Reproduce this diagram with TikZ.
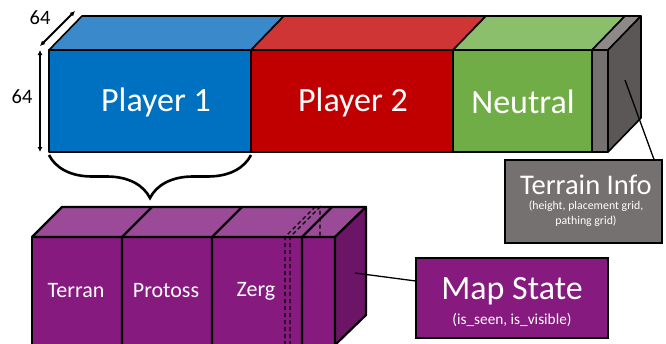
\documentclass[tikz,border=0pt]{standalone}
\usepackage{fontspec}
\setmainfont{Carlito}
\usetikzlibrary{arrows.meta,decorations.pathreplacing}
\definecolor{bluefront}{HTML}{0070C0}
\definecolor{bluetop}{HTML}{3A8ACB}
\definecolor{redfront}{HTML}{C00000}
\definecolor{redtop}{HTML}{CF3535}
\definecolor{greenfront}{HTML}{70AD47}
\definecolor{greentop}{HTML}{8CBF6C}
\definecolor{greyfront}{HTML}{767171}
\definecolor{greytop}{HTML}{8E8989}
\definecolor{greyside}{HTML}{5B5757}
\definecolor{purplefront}{HTML}{861A7E}
\definecolor{purpletop}{HTML}{9A4A97}
\definecolor{purpleside}{HTML}{6C1566}
\begin{document}
\begin{tikzpicture}[x=1pt, y=-1pt]
        \tikzstyle{face} = [draw, black, line width=1.6pt, line join=round]
        \tikzstyle{slab} = [draw, black, line width=2.2pt, line join=round]
        \tikzstyle{lbl} = [text=white, inner sep=0pt]
        \tikzstyle{dim} = [draw, black, line width=2pt, {Latex[length=5pt,width=5pt]}-{Latex[length=5pt,width=5pt]}]
        \tikzstyle{blk} = [draw, black, line width=1.3pt]
        \tikzstyle{infobox} = [draw, black, line width=1.6pt, inner sep=0pt]

        \useasboundingbox (0,0) rectangle (666,343);

        % top block: players, neutral, terrain
        \path[face, fill=bluefront] (49,50) rectangle (251,152);
        \path[face, fill=bluetop] (49,50) -- (82,16) -- (284,16) -- (251,50) -- cycle;
        \path[face, fill=redfront] (251,50) rectangle (453,152);
        \path[face, fill=redtop] (251,50) -- (284,16) -- (486,16) -- (453,50) -- cycle;
        \path[face, fill=greenfront] (453,50) rectangle (592,152);
        \path[face, fill=greentop] (453,50) -- (486,16) -- (625,16) -- (592,50) -- cycle;
        \path[face, fill=greyfront] (592,50) rectangle (608,152);
        \path[face, fill=greytop] (592,50) -- (625,16) -- (641,16) -- (608,50) -- cycle;
        \path[face, fill=greyside] (608,50) -- (641,16) -- (641,118) -- (608,152) -- cycle;

        \node[lbl, font=\fontsize{34}{38}\selectfont] (player1) at (156,102) {Player 1};
        \node[lbl, font=\fontsize{34}{38}\selectfont] (player2) at (353,102) {Player 2};
        \node[lbl, font=\fontsize{34}{38}\selectfont] (neutral) at (523,102) {Neutral};

        % dimensions
        \coordinate (dimtop) at (40,50);
        \coordinate (dimbot) at (40,152);
        \coordinate (depthfront) at (40,46);
        \coordinate (depthback) at (75,11);
        \path[dim] (dimtop) to (dimbot);
        \path[dim] (depthfront) to (depthback);
        \node[font=\fontsize{20.5}{24}\selectfont, inner sep=0pt] (sizeh) at (22,97) {64};
        \node[font=\fontsize{20.5}{24}\selectfont, inner sep=0pt] (sized) at (40,18) {64};

        % brace under player 1
        \coordinate (braceleft) at (49,155);
        \coordinate (braceright) at (251,155);
        \draw[line width=2.6pt, decorate, decoration={brace, amplitude=43pt, mirror}] (braceleft) -- (braceright);

        % bottom block: races
        \path[slab, fill=purplefront] (32,237) rectangle (335,345);
        \path[slab, fill=purpletop] (32,237) -- (62,207) -- (366,207) -- (335,237) -- cycle;
        \path[slab, fill=purpleside] (335,237) -- (366,207) -- (366,315) -- (335,345) -- cycle;
        \foreach \x in {122,212,302} {
            \draw[black, line width=2.2pt] (\x,345) -- (\x,237) -- (\x+30,207);
        }
        % hidden slice
        \draw[black, line width=1.4pt, dash pattern=on 4pt off 3pt] (285,345) -- (285,237) -- (315,207) -- (320,207);
        \draw[black, line width=1.4pt, dash pattern=on 4pt off 3pt] (290,345) -- (290,237) -- (320,207) -- (320,237);

        \node[lbl, font=\fontsize{22}{26}\selectfont] (terran) at (76,291) {Terran};
        \node[lbl, font=\fontsize{22}{26}\selectfont] (protoss) at (166,291) {Protoss};
        \node[lbl, font=\fontsize{22}{26}\selectfont] (zerg) at (256,291) {Zerg};

        % info boxes
        \node[infobox, fill=greyfront, minimum width=157pt, minimum height=83pt] (terrain) at (583.5,201.5) {};
        \node[lbl, font=\fontsize{28.5}{30}\selectfont] (terraintitle) at (586,185) {Terrain Info};
        \node[lbl, font=\fontsize{11.8}{14}\selectfont] (terrainsub1) at (586,206) {(height, placement grid,};
        \node[lbl, font=\fontsize{11.8}{14}\selectfont] (terrainsub2) at (586,221) {pathing grid)};

        \node[infobox, fill=purplefront, minimum width=192pt, minimum height=80pt] (mapstate) at (512,298) {};
        \node[lbl, font=\fontsize{34}{38}\selectfont] (maptitle) at (512,291) {Map State};
        \node[lbl, font=\fontsize{15.3}{18}\selectfont] (mapsub) at (512,320) {(is\_seen, is\_visible)};

        \coordinate (terrainface) at (625,80);
        \coordinate (raceface) at (355,273);
        \path[blk] (terrainface) to (terrain.31);
        \path[blk] (raceface) to (mapstate.170);
    \end{tikzpicture}
\end{document}
